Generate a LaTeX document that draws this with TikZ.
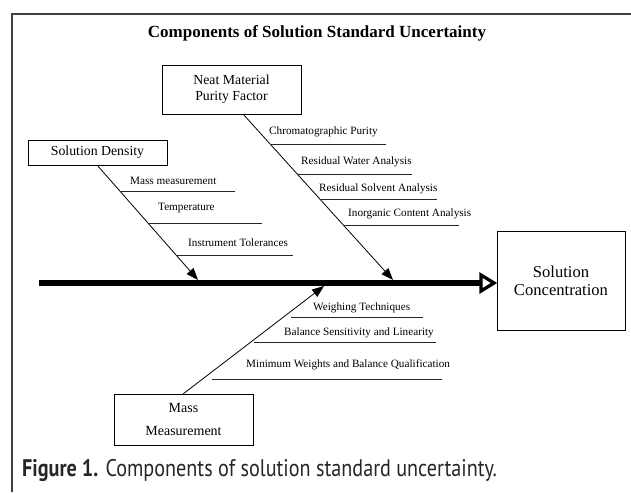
\documentclass[tikz,border=0pt]{standalone}
\usepackage{fontspec}
\setmainfont{Liberation Serif}
\newfontfamily\capfont[FakeStretch=0.84]{PT Sans}
\usetikzlibrary{arrows.meta}
\begin{document}
\begin{tikzpicture}[x=1pt,y=-1pt,
  box/.style={draw, line width=0.8pt, align=center, inner sep=0pt, font=\fontsize{13.8}{16}\selectfont},
  sublabel/.style={anchor=west, inner sep=0pt, font=\fontsize{11.2}{12}\selectfont},
  bone/.style={line width=0.8pt, -{Triangle[length=12pt,width=9pt]}},
  twig/.style={line width=0.7pt, draw=black!85},
  spine/.style={line width=6.5pt},
  frame/.style={line width=1.1pt, draw=black!75}]
\useasboundingbox (0,0) rectangle (631,492);
% frame
\coordinate (fl) at (12,492);
\coordinate (fc) at (12,14);
\coordinate (fr) at (631,14);
\draw[frame] (fl) -- (fc) -- (fr);
% title
\node[font=\fontsize{17}{19}\selectfont\bfseries] (title) at (317,33) {Components of Solution Standard Uncertainty};
% boxes
\node[box, minimum width=139pt, minimum height=49pt] (neat) at (231.5,89.5) {Neat Material\\Purity Factor};
\node[box, minimum width=139pt, minimum height=25pt] (dens) at (97.5,152.5) {Solution Density};
\node[box, minimum width=128pt, minimum height=99pt, font=\fontsize{16.6}{18}\selectfont] (conc) at (561,280.5) {Solution\\Concentration};
\node[box, minimum width=139pt, minimum height=51pt, font=\fontsize{14}{23}\selectfont] (mass) at (183.5,419.5) {Mass\\Measurement};
% spine
\coordinate (s0) at (39,283);
\coordinate (s1) at (481,283);
\coordinate (s2) at (494,283);
\draw[spine] (s0) -- (s1);
\draw[line width=3.3pt, fill=white, line join=miter] ([yshift=-8pt]s1) -- (s2) -- ([yshift=8pt]s1) -- cycle;
% bones
\coordinate (nA) at (243,114);
\coordinate (nB) at (393,280);
\coordinate (dA) at (97,165);
\coordinate (dB) at (198,280);
\coordinate (mA) at (183,394);
\coordinate (mB) at (324,286);
\draw[bone] (nA) -- (nB);
\draw[bone] (dA) -- (dB);
\draw[bone] (mA) -- (mB);
% neat twigs
\coordinate (n1a) at (270,144); \coordinate (n1b) at (386,144);
\coordinate (n2a) at (297,174); \coordinate (n2b) at (412,174);
\coordinate (n3a) at (320,199); \coordinate (n3b) at (437,199);
\coordinate (n4a) at (343,225); \coordinate (n4b) at (459,225);
\draw[twig] (n1a) -- (n1b);
\draw[twig] (n2a) -- (n2b);
\draw[twig] (n3a) -- (n3b);
\draw[twig] (n4a) -- (n4b);
\node[sublabel] (n1) at (269,132) {Chromatographic Purity};
\node[sublabel] (n2) at (301,162) {Residual Water Analysis};
\node[sublabel] (n3) at (319,189) {Residual Solvent Analysis};
\node[sublabel] (n4) at (348,214) {Inorganic Content Analysis};
% density twigs
\coordinate (d1a) at (120,191); \coordinate (d1b) at (235,191);
\coordinate (d2a) at (148,223); \coordinate (d2b) at (262,223);
\coordinate (d3a) at (176,255); \coordinate (d3b) at (293,255);
\draw[twig] (d1a) -- (d1b);
\draw[twig] (d2a) -- (d2b);
\draw[twig] (d3a) -- (d3b);
\node[sublabel] (d1) at (130,181) {Mass measurement};
\node[sublabel] (d2) at (158,208) {Temperature};
\node[sublabel] (d3) at (188,243) {Instrument Tolerances};
% mass twigs
\coordinate (m1a) at (291,317); \coordinate (m1b) at (423,317);
\coordinate (m2a) at (254,342); \coordinate (m2b) at (436,342);
\coordinate (m3a) at (212,379); \coordinate (m3b) at (442,379);
\draw[twig] (m1a) -- (m1b);
\draw[twig] (m2a) -- (m2b);
\draw[twig] (m3a) -- (m3b);
\node[sublabel] (m1) at (313,308) {Weighing Techniques};
\node[sublabel] (m2) at (284,333) {Balance Sensitivity and Linearity};
\node[sublabel] (m3) at (246,365) {Minimum Weights and Balance Qualification};
% caption
\node[anchor=west, inner sep=0pt, font=\capfont\fontsize{24}{27}\selectfont, text=black!85] (cap) at (22,470) {\textbf{Figure 1.} Components of solution standard uncertainty.};
\end{tikzpicture}
\end{document}
